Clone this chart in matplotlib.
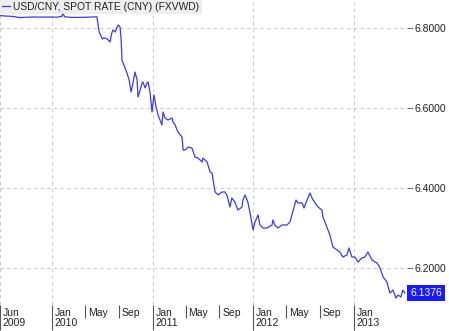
import matplotlib
matplotlib.use('Agg')
import matplotlib.pyplot as plt
import matplotlib.transforms as mtransforms
import pandas as pd

plt.rcParams['font.family'] = ['Liberation Sans', 'DejaVu Sans']

# USD/CNY spot rate
dates = [
    '2009-06-26', '2009-07-15', '2009-08-10', '2009-09-07', '2009-10-01',
    '2009-10-25', '2009-11-18', '2009-12-20', '2010-01-20', '2010-02-05',
    '2010-02-10', '2010-02-15', '2010-03-15', '2010-04-13', '2010-05-10',
    '2010-06-13', '2010-06-21', '2010-06-28', '2010-07-02', '2010-07-09',
    '2010-07-16', '2010-07-24', '2010-07-31', '2010-08-05', '2010-08-10',
    '2010-08-18', '2010-08-29', '2010-09-05', '2010-09-09', '2010-09-12',
    '2010-09-23', '2010-09-30', '2010-10-08', '2010-10-15', '2010-10-22',
    '2010-10-29', '2010-11-06', '2010-11-09', '2010-11-17', '2010-11-24',
    '2010-11-27', '2010-12-05', '2010-12-12', '2010-12-16', '2010-12-23',
    '2010-12-30', '2011-01-06', '2011-01-14', '2011-01-21', '2011-02-04',
    '2011-02-08', '2011-02-15', '2011-02-26', '2011-03-13', '2011-03-16',
    '2011-03-24', '2011-04-03', '2011-04-18', '2011-04-22', '2011-04-29',
    '2011-05-10', '2011-05-24', '2011-06-04', '2011-06-15', '2011-06-30',
    '2011-07-03', '2011-07-18', '2011-07-29', '2011-08-05', '2011-08-16',
    '2011-08-27', '2011-09-10', '2011-09-21', '2011-09-28', '2011-10-09',
    '2011-10-16', '2011-10-27', '2011-11-07', '2011-11-22', '2011-11-25',
    '2011-12-03', '2011-12-13', '2011-12-21', '2012-01-01', '2012-01-08',
    '2012-01-19', '2012-01-26', '2012-02-06', '2012-02-20', '2012-03-10',
    '2012-03-13', '2012-03-20', '2012-03-31', '2012-04-15', '2012-05-03',
    '2012-05-14', '2012-05-25', '2012-06-05', '2012-06-12', '2012-06-27',
    '2012-07-04', '2012-07-15', '2012-07-26', '2012-08-02', '2012-08-13',
    '2012-08-24', '2012-09-07', '2012-09-11', '2012-09-25', '2012-10-06',
    '2012-10-17', '2012-11-01', '2012-11-11', '2012-11-22', '2012-12-07',
    '2012-12-14', '2012-12-25', '2013-01-05', '2013-01-16', '2013-01-30',
    '2013-02-10', '2013-02-21', '2013-03-08', '2013-03-26', '2013-04-06',
    '2013-04-17', '2013-05-01', '2013-05-12', '2013-05-23', '2013-06-03',
    '2013-06-10', '2013-06-21', '2013-06-28', '2013-07-05',
]
rates = [
    6.8310, 6.8300, 6.8290, 6.8260, 6.8270,
    6.8275, 6.8272, 6.8275, 6.8270, 6.8290,
    6.8375, 6.8280, 6.8265, 6.8265, 6.8270,
    6.8280, 6.7900, 6.7800, 6.7725, 6.7750,
    6.7740, 6.7700, 6.7650, 6.7850, 6.7950,
    6.7900, 6.8075, 6.8025, 6.7700, 6.7200,
    6.7000, 6.6875, 6.6700, 6.6400, 6.6625,
    6.6900, 6.6700, 6.6275, 6.6450, 6.6625,
    6.6650, 6.6500, 6.6625, 6.6650, 6.6375,
    6.5900, 6.6325, 6.6025, 6.5825, 6.5575,
    6.5900, 6.5750, 6.5700, 6.5750, 6.5650,
    6.5575, 6.5400, 6.5275, 6.4950, 6.4950,
    6.5025, 6.5000, 6.4775, 6.4750, 6.4650,
    6.4750, 6.4650, 6.4400, 6.4375, 6.3900,
    6.3825, 6.3900, 6.3900, 6.3825, 6.3525,
    6.3750, 6.3650, 6.3450, 6.3525, 6.3700,
    6.3825, 6.3650, 6.3375, 6.2950, 6.3150,
    6.3325, 6.3075, 6.3000, 6.3000, 6.3075,
    6.3200, 6.3075, 6.3000, 6.3075, 6.3075,
    6.3150, 6.3425, 6.3700, 6.3625, 6.3625,
    6.3500, 6.3700, 6.3875, 6.3750, 6.3625,
    6.3525, 6.3450, 6.3275, 6.3025, 6.2825,
    6.2525, 6.2450, 6.2400, 6.2275, 6.2325,
    6.2500, 6.2275, 6.2275, 6.2150, 6.2250,
    6.2275, 6.2400, 6.2200, 6.2125, 6.2000,
    6.1775, 6.1650, 6.1375, 6.1450, 6.1250,
    6.1325, 6.1275, 6.1450, 6.1376,
]

major_ticks = ['2009-06-26', '2010-01-01', '2011-01-01', '2012-01-01', '2013-01-01']
major_labels = ['Jun\n2009', 'Jan\n2010', 'Jan\n2011', 'Jan\n2012', 'Jan\n2013']
minor_ticks = ['2010-05-01', '2010-09-01', '2011-05-01', '2011-09-01',
               '2012-05-01', '2012-09-01']
minor_labels = ['May', 'Sep', 'May', 'Sep', 'May', 'Sep']
y_ticks = [6.2, 6.4, 6.6, 6.8]

series_name = 'USD/CNY, SPOT RATE (CNY) (FXVWD)'
line_color = '#3a3af2'
text_color = '#222222'

x = pd.to_datetime(dates)

fig = plt.figure(figsize=(4.49, 3.31), dpi=100)
ax = fig.add_axes([0, 26 / 331, 407 / 449, 305 / 331])

ax.plot(x, rates, color=line_color, linewidth=0.9, label=series_name)

ax.set_xlim(pd.Timestamp('2009-06-26'), pd.Timestamp('2013-07-13'))
ax.set_ylim(6.1075, 6.87)

for s in ax.spines.values():
    s.set_visible(False)

# right hand price axis
ax.yaxis.tick_right()
ax.set_yticks(y_ticks, [f'{v:.4f}' for v in y_ticks])
ax.tick_params(axis='y', length=4, width=0.8, color='#777777', pad=1.5,
               labelsize=7.5, labelcolor=text_color)

# date axis, labels sit to the right of the tick lines
ax.set_xticks(pd.to_datetime(major_ticks), major_labels, ha='left',
              linespacing=1.0)
ax.set_xticks(pd.to_datetime(minor_ticks), minor_labels, minor=True,
              ha='left')
ax.tick_params(axis='x', which='major', length=18, width=0.8,
               color='#555555', pad=-16, labelsize=7.5, labelcolor=text_color)
ax.tick_params(axis='x', which='minor', length=9, width=0.8,
               color='#555555', pad=-7, labelsize=7.5, labelcolor=text_color)
offset = mtransforms.ScaledTranslation(2 / 72, 0, fig.dpi_scale_trans)
for lbl in ax.get_xticklabels(which='both'):
    lbl.set_transform(lbl.get_transform() + offset)

ax.grid(True, which='major', color='#cccccc', linestyle=(0, (3, 3)),
        linewidth=0.8)

leg = ax.legend(loc='upper left', borderaxespad=0, borderpad=0.2,
                handlelength=0.8, handletextpad=0.3, fontsize=7.4,
                fancybox=False, framealpha=1, facecolor='#eeeeee',
                edgecolor='none')
for t in leg.get_texts():
    t.set_color(text_color)

# last value marker
last = rates[-1]
ax.annotate(f'{last:.4f}', xy=(1, last),
            xycoords=ax.get_yaxis_transform(), xytext=(2.5, 0),
            textcoords='offset points', va='center', ha='left',
            fontsize=7.5, color='white',
            bbox=dict(boxstyle='square,pad=0.3', facecolor='#1a1aff',
                      edgecolor='none'))

fig.savefig('out.png', dpi=100)
